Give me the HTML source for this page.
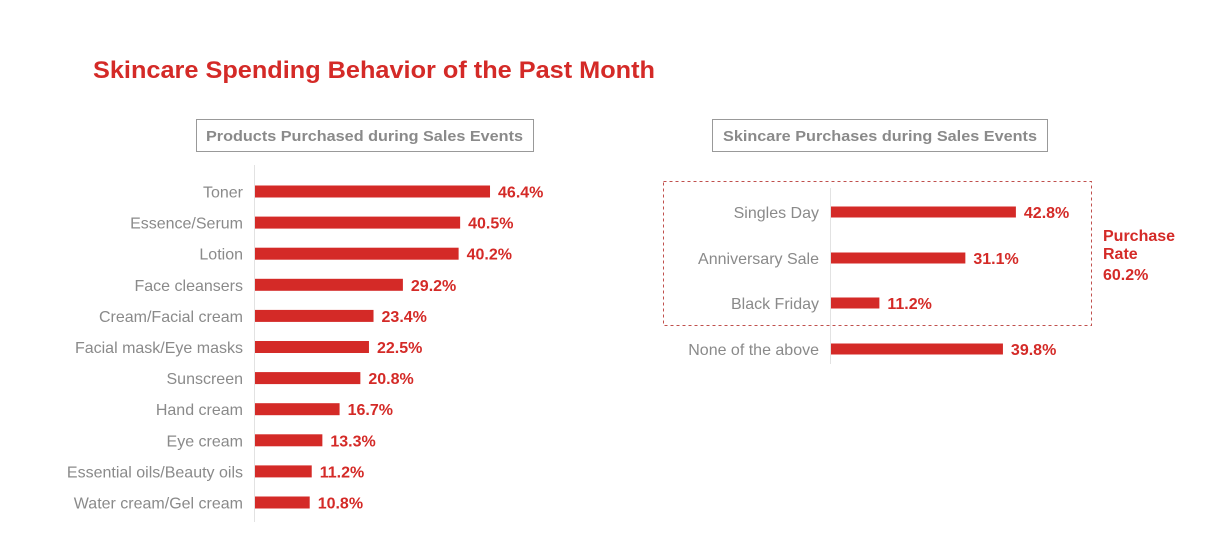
<!DOCTYPE html>
<html><head><meta charset="utf-8"><style>
body{margin:0;background:#fff;width:1226px;height:542px;overflow:hidden;font-family:"Liberation Sans",Arial,sans-serif}
</style></head><body>
<svg id="c" width="1226" height="542" xmlns="http://www.w3.org/2000/svg">
<text x="93" y="78" font-size="24" font-weight="bold" fill="#d42a27" textLength="562" lengthAdjust="spacingAndGlyphs">Skincare Spending Behavior of the Past Month</text>
<rect x="196.5" y="119.5" width="337" height="32" fill="none" stroke="#999"/>
<text x="206" y="141" font-size="15" font-weight="bold" fill="#8a8a8a" textLength="317" lengthAdjust="spacingAndGlyphs">Products Purchased during Sales Events</text>
<rect x="712.5" y="119.5" width="335" height="32" fill="none" stroke="#999"/>
<text x="723" y="141" font-size="15" font-weight="bold" fill="#8a8a8a" textLength="314" lengthAdjust="spacingAndGlyphs">Skincare Purchases during Sales Events</text>
<line x1="254.5" y1="165" x2="254.5" y2="522" stroke="#e2e2e2"/>
<line x1="830.5" y1="188" x2="830.5" y2="364" stroke="#e2e2e2"/>
<rect x="663.5" y="181.5" width="428" height="144" fill="none" stroke="#c0504d" stroke-dasharray="3,3"/>
<text x="1103" y="241" font-size="16" font-weight="bold" fill="#d42a27"><tspan x="1103">Purchase</tspan><tspan x="1103" dy="18">Rate</tspan><tspan x="1103" dy="21">60.2%</tspan></text>
<g id="left"></g><g id="right"></g>
</svg>
<script>
const leftCats=["Toner","Essence/Serum","Lotion","Face cleansers","Cream/Facial cream","Facial mask/Eye masks","Sunscreen","Hand cream","Eye cream","Essential oils/Beauty oils","Water cream/Gel cream"];
const leftVals=[46.4,40.5,40.2,29.2,23.4,22.5,20.8,16.7,13.3,11.2,10.8];
const rightCats=["Singles Day","Anniversary Sale","Black Friday","None of the above"];
const rightVals=[42.8,31.1,11.2,39.8];
const NS="http://www.w3.org/2000/svg";
function draw(g,cats,vals,x0,scale,yFn,h){
  cats.forEach((c,i)=>{
    const y=yFn(i),w=vals[i]*scale;
    const r=document.createElementNS(NS,"rect");
    r.setAttribute("x",x0);r.setAttribute("y",y-h/2);r.setAttribute("width",w);r.setAttribute("height",h);r.setAttribute("fill","#d42a27");
    
    
    g.appendChild(r);
    const l=document.createElementNS(NS,"text");
    l.setAttribute("x",x0-12);l.setAttribute("y",y+6);l.setAttribute("text-anchor","end");l.setAttribute("font-size","16");l.setAttribute("fill","#8a8a8a");
    l.textContent=c;
    
    
    g.appendChild(l);
    const v=document.createElementNS(NS,"text");
    v.setAttribute("x",x0+w+8);v.setAttribute("y",y+6);v.setAttribute("font-size","16");v.setAttribute("font-weight","bold");v.setAttribute("fill","#d42a27");
    v.textContent=vals[i].toFixed(1)+"%";
    
    
    g.appendChild(v);
  });
}
draw(document.getElementById("left"),leftCats,leftVals,255,5.065,i=>191.5+i*31.1,12);
const ry=[212,258,303,349];
draw(document.getElementById("right"),rightCats,rightVals,831,4.32,i=>ry[i],11);
</script>
</body></html>
